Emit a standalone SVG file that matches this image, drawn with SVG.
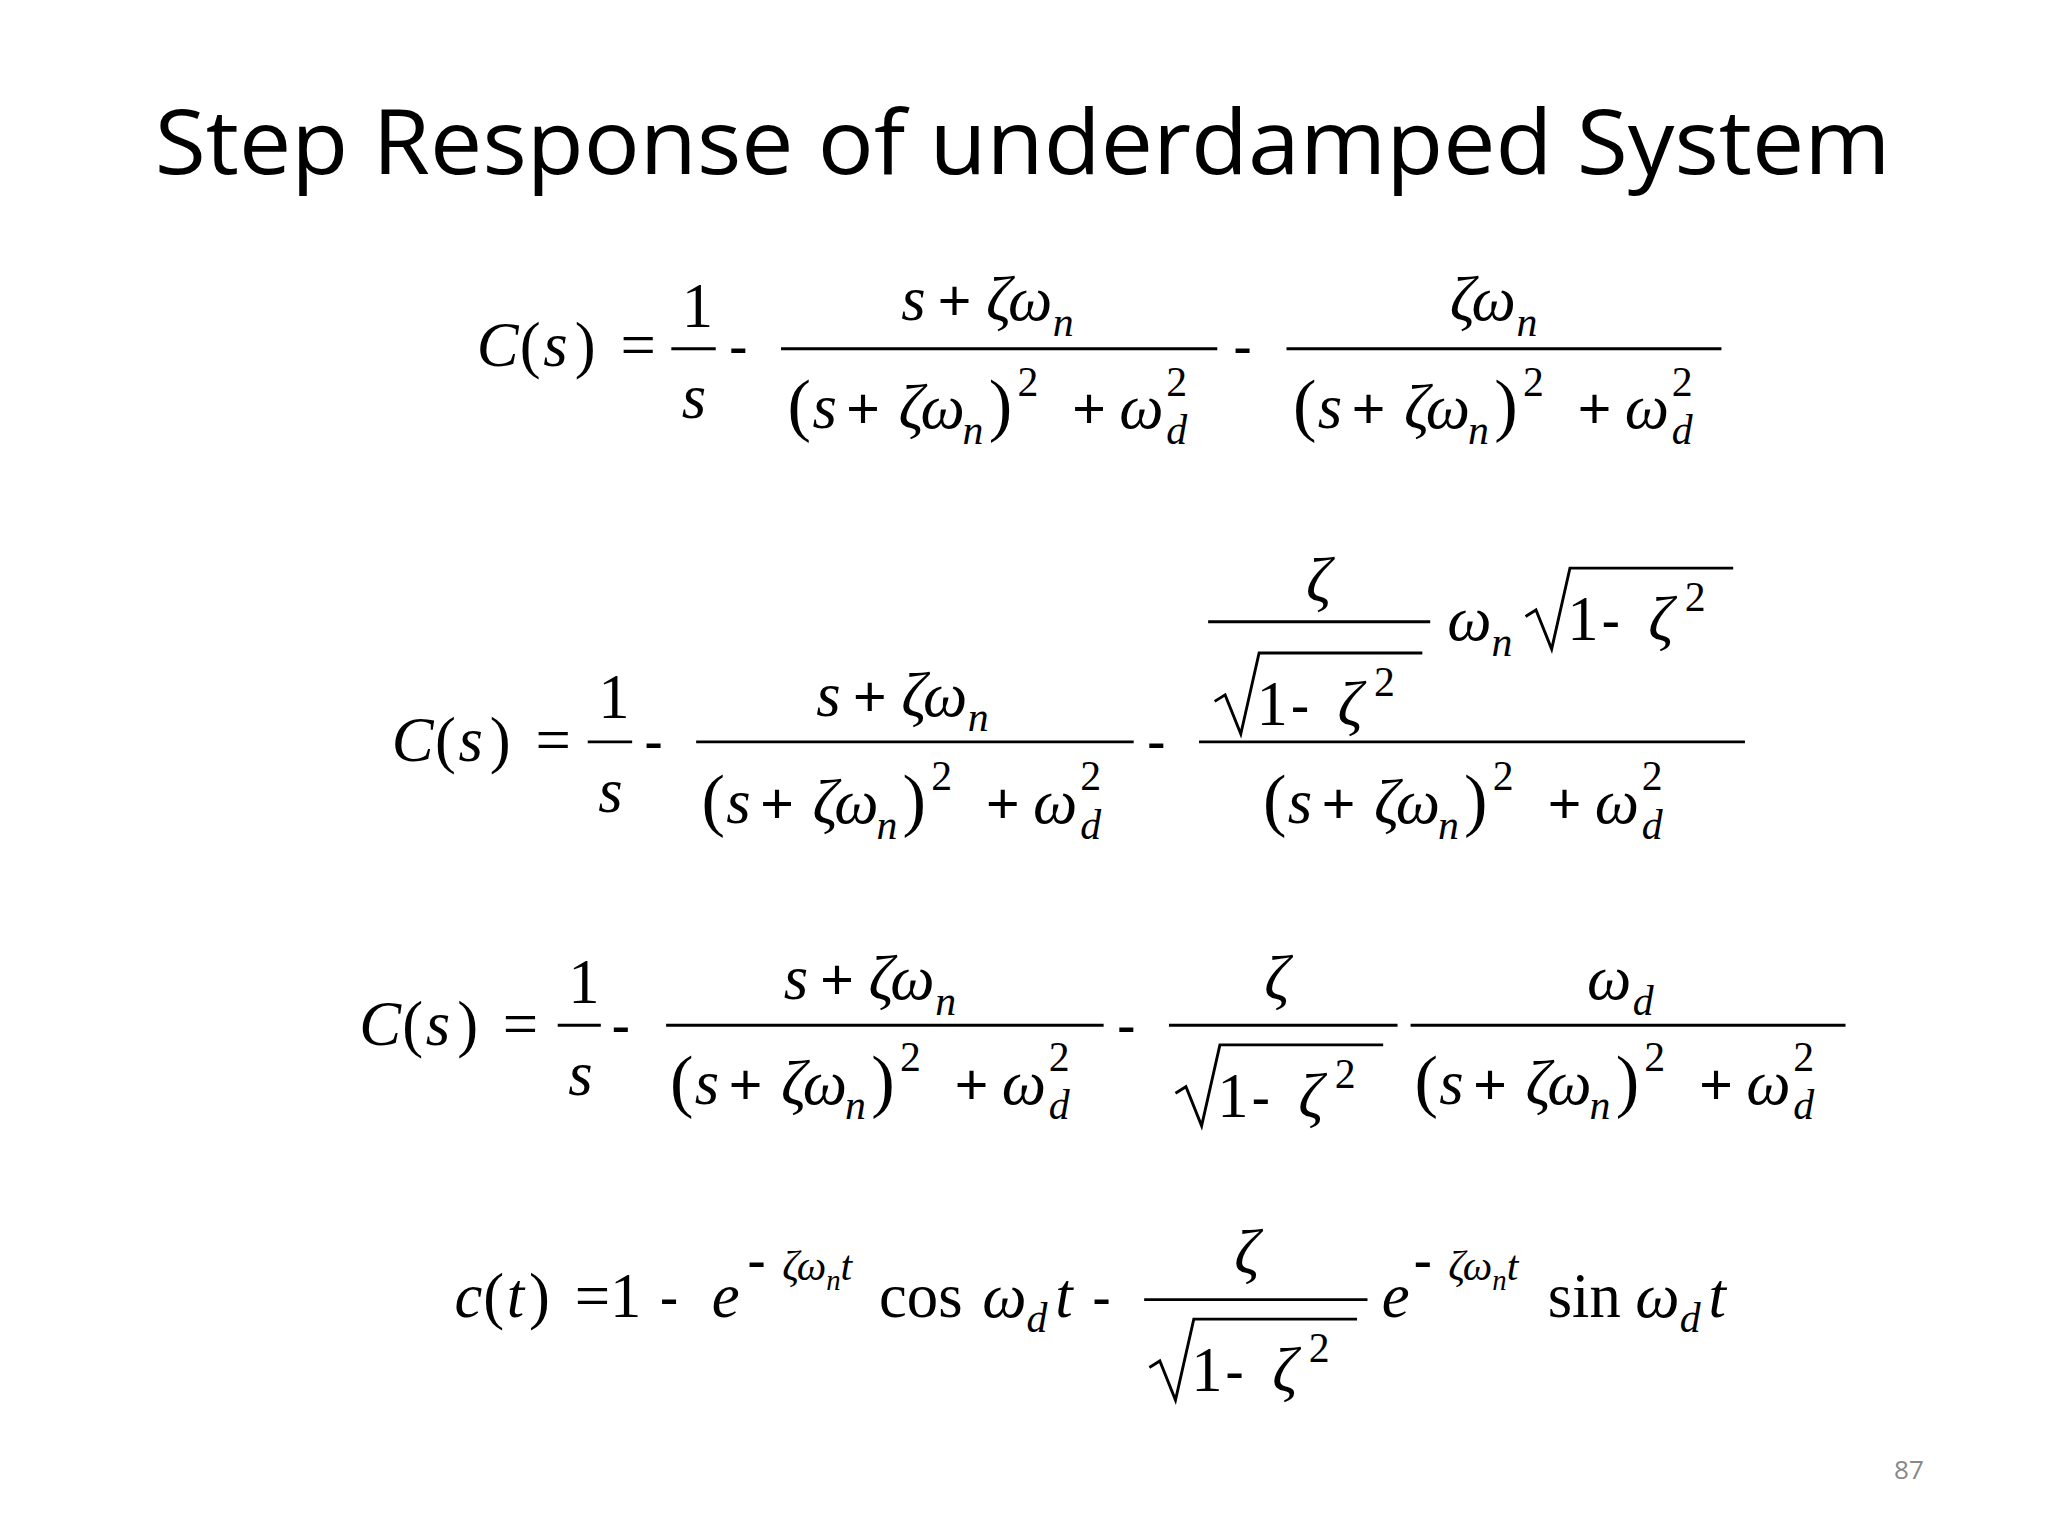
<svg xmlns="http://www.w3.org/2000/svg" xmlns:xlink="http://www.w3.org/1999/xlink" width="2048" height="1536" viewBox="0 0 2048 1536">
<style>
text{font-family:"Liberation Serif",serif;font-size:48px;fill:#000}
.i{font-style:italic}
.s{font-size:32px}
.o{font-family:"Liberation Sans",sans-serif;font-size:44px}
.p{font-size:54px}
.t{font-family:"Open Sans","Noto Sans",sans-serif;font-size:68px}
line,path{stroke:#000;stroke-width:2.2;fill:none}
</style>
<defs>
<g id="den">
<text x="0" class="p">(</text><text x="19" class="i">s</text><text x="45" class="o">+</text><text x="85" class="i">ζω</text><text x="134" y="12" class="i s">n</text><text x="154" class="p">)</text><text x="176" y="-25" class="s">2</text><text x="218" class="o">+</text><text x="254" class="i">ω</text><text x="290" y="-25" class="s">2</text><text x="290" y="12" class="i s">d</text>
</g>
<g id="num">
<text x="0" class="i">s</text><text x="28" class="o">+</text><text x="65" class="i">ζω</text><text x="116" y="12" class="i s">n</text>
</g>
<g id="sq">
<path d="M0,-18 l8,-5 l12,30 l14,-62 h125"/><text x="32">1</text><text x="58" class="o">-</text><text x="94" class="i">ζ</text><text x="122" y="-22" class="s">2</text>
</g>
</defs>
<rect width="2048" height="1536" fill="#fff"/>
<g transform="scale(1.3061)">
<text x="783" y="133" class="t" text-anchor="middle" textLength="1329" lengthAdjust="spacingAndGlyphs">Step Response of underdamped System</text>
<g id="eq1">
<text x="365" y="280" class="i">C</text><text x="398" y="280">(</text><text x="416" y="280" class="i">s</text><text x="440" y="280">)</text><text x="475" y="280">=</text>
<text x="522" y="250">1</text><line x1="514" y1="267" x2="548" y2="267"/><text x="522" y="320" class="i">s</text>
<text x="558" y="280" class="o">-</text>
<use xlink:href="#num" transform="translate(690,245)"/><line x1="598" y1="267" x2="932" y2="267"/><use xlink:href="#den" transform="translate(603,328)"/>
<text x="944" y="280" class="o">-</text>
<text x="1110" y="245" class="i">ζω</text><text x="1161" y="257" class="i s">n</text><line x1="985" y1="267" x2="1318" y2="267"/><use xlink:href="#den" transform="translate(990,328)"/>
</g>
<g id="eq2">
<text x="300" y="583" class="i">C</text><text x="333" y="583">(</text><text x="351" y="583" class="i">s</text><text x="375" y="583">)</text><text x="410" y="583">=</text>
<text x="458" y="550">1</text><line x1="450" y1="568" x2="484" y2="568"/><text x="458" y="622" class="i">s</text>
<text x="493" y="583" class="o">-</text>
<use xlink:href="#num" transform="translate(625,548)"/><line x1="533" y1="568" x2="868" y2="568"/><use xlink:href="#den" transform="translate(537,630)"/>
<text x="878" y="583" class="o">-</text>
<text x="1000" y="460" class="i">ζ</text><line x1="925" y1="476" x2="1095" y2="476"/><use xlink:href="#sq" transform="translate(930,555)"/>
<text x="1108" y="490" class="i">ω</text><text x="1142" y="502" class="i s">n</text><use xlink:href="#sq" transform="translate(1168,490)"/>
<line x1="918" y1="568" x2="1336" y2="568"/><use xlink:href="#den" transform="translate(967,630)"/>
</g>
<g id="eq3">
<text x="275" y="800" class="i">C</text><text x="308" y="800">(</text><text x="326" y="800" class="i">s</text><text x="350" y="800">)</text><text x="385" y="800">=</text>
<text x="435" y="768">1</text><line x1="427" y1="785" x2="460" y2="785"/><text x="435" y="838" class="i">s</text>
<text x="468" y="800" class="o">-</text>
<use xlink:href="#num" transform="translate(600,765)"/><line x1="510" y1="785" x2="845" y2="785"/><use xlink:href="#den" transform="translate(513,845)"/>
<text x="855" y="800" class="o">-</text>
<text x="968" y="765" class="i">ζ</text><line x1="895" y1="785" x2="1070" y2="785"/><use xlink:href="#sq" transform="translate(900,855)"/>
<text x="1215" y="765" class="i">ω</text><text x="1250" y="777" class="i s">d</text><line x1="1080" y1="785" x2="1413" y2="785"/><use xlink:href="#den" transform="translate(1083,845)"/>
</g>
<g id="eq4">
<text x="348" y="1008" class="i">c</text><text x="370" y="1008">(</text><text x="388" y="1008" class="i">t</text><text x="405" y="1008">)</text><text x="440" y="1008">=1</text><text x="505" y="1008" class="o">-</text>
<text x="545" y="1008" class="i">e</text>
<text x="572" y="980" class="s"><tspan class="o s">- </tspan><tspan class="i">ζω</tspan><tspan class="i" font-size="22" dy="8">n</tspan><tspan class="i" dy="-8">t</tspan></text>
<text x="673" y="1008">cos</text><text x="752" y="1008" class="i">ω</text><text x="786" y="1020" class="i s">d</text><text x="808" y="1008" class="i">t</text>
<text x="836" y="1008" class="o">-</text>
<text x="945" y="975" class="i">ζ</text><line x1="876" y1="995" x2="1047" y2="995"/><use xlink:href="#sq" transform="translate(880,1065)"/>
<text x="1058" y="1008" class="i">e</text>
<text x="1082" y="980" class="s"><tspan class="o s">- </tspan><tspan class="i">ζω</tspan><tspan class="i" font-size="22" dy="8">n</tspan><tspan class="i" dy="-8">t</tspan></text>
<text x="1185" y="1008">sin</text><text x="1252" y="1008" class="i">ω</text><text x="1286" y="1020" class="i s">d</text><text x="1308" y="1008" class="i">t</text>
</g>
<text x="1473" y="1132" text-anchor="end" style="font-family:'Open Sans',sans-serif;font-size:20px;fill:#888">87</text>
</g>
</svg>
